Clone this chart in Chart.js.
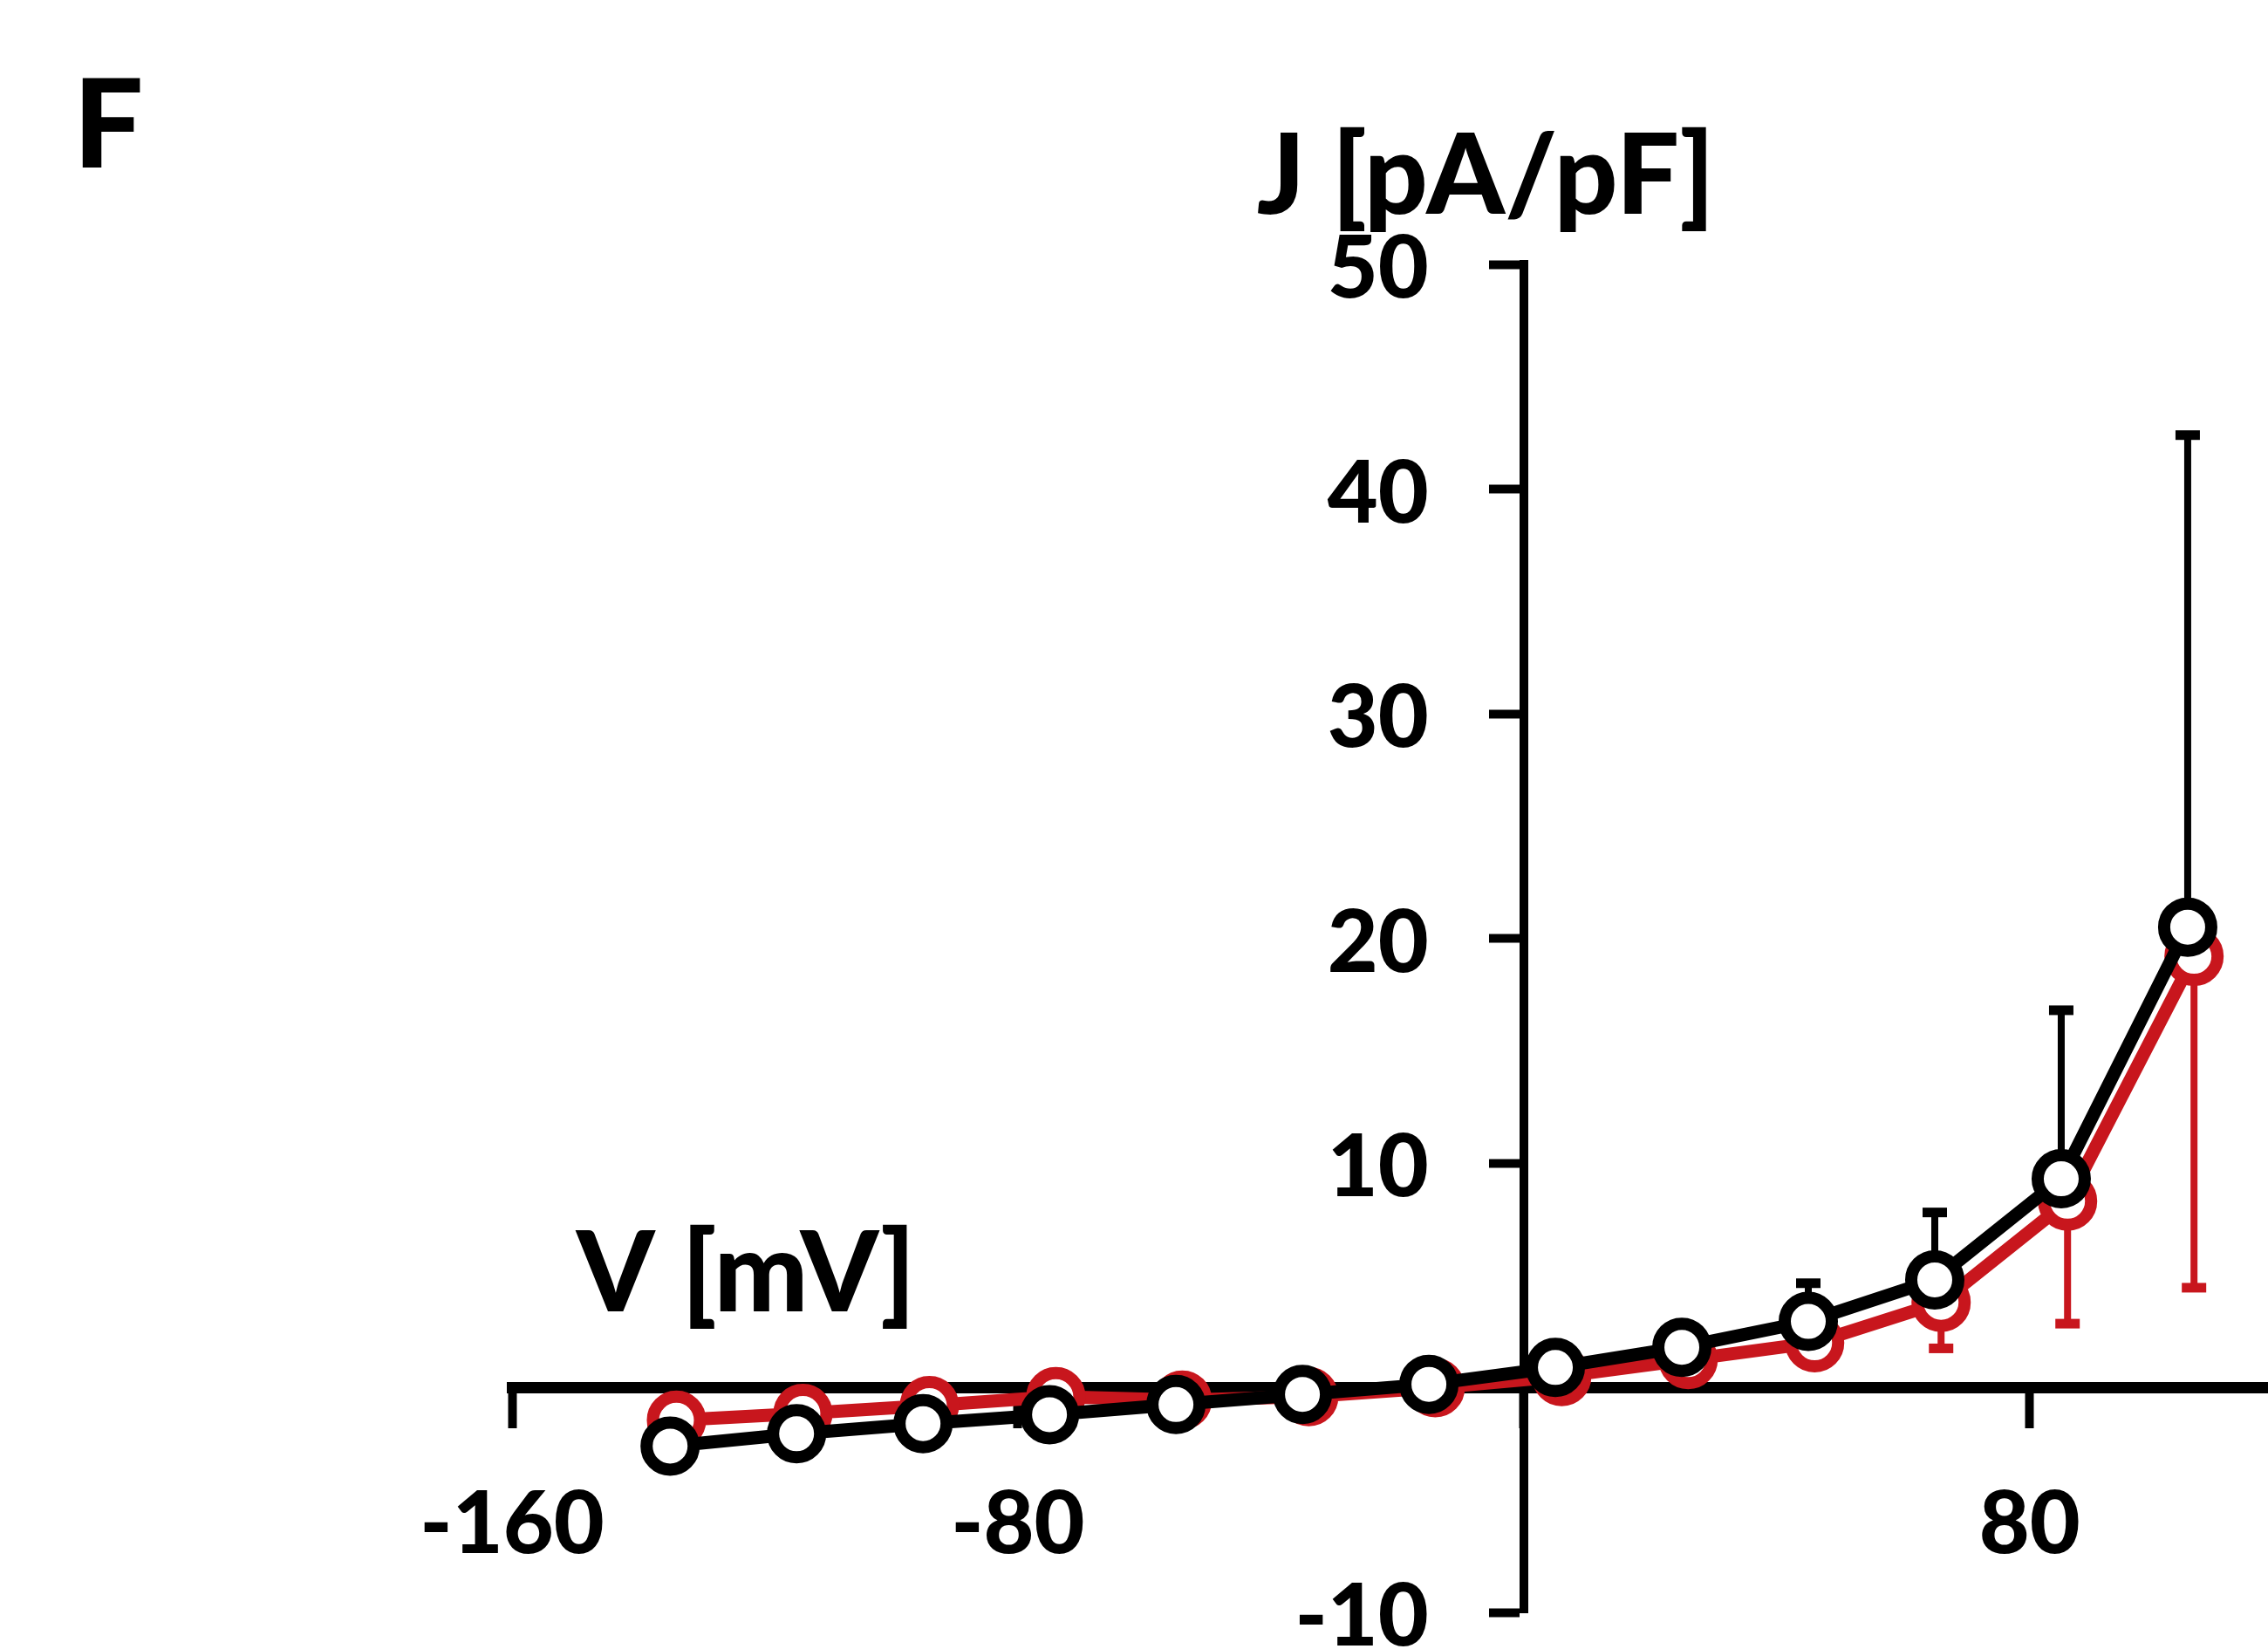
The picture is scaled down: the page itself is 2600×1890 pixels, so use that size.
<!DOCTYPE html>
<html>
<head>
<meta charset="utf-8">
<script src="https://cdn.jsdelivr.net/npm/chart.js@4.4.1/dist/chart.umd.min.js"></script>
<style>
  html, body { margin: 0; padding: 0; background: #ffffff; }
  #wrap { width: 2600px; height: 1890px; }
</style>
</head>
<body>
<div id="wrap"><canvas id="iv-chart" width="2600" height="1890"></canvas></div>
<script>
// Voltage steps (mV)
const voltages = [-135, -115, -95, -75, -55, -35, -15, 5, 25, 45, 65, 85, 105];
const redVoltages = [-134, -114, -94, -74, -54, -34, -14, 6, 26, 46, 66, 86, 106];

// Current density J (pA/pF)
const blackMeans = [-2.6, -2.05, -1.6, -1.2, -0.75, -0.3, 0.15, 0.9, 1.8, 2.95, 4.8, 9.3, 20.5];
const blackErrUp = [0.2, 0.2, 0.2, 0.2, 0.2, 0.2, 0.2, 0.3, 0.5, 1.7, 3.0, 7.5, 21.9];
const redMeans = [-1.45, -1.15, -0.8, -0.4, -0.55, -0.4, 0.0, 0.5, 1.25, 2.0, 3.8, 8.3, 19.2];
const redErrDown = [0.2, 0.2, 0.2, 0.2, 0.2, 0.2, 0.2, 0.3, 0.5, 0.9, 2.05, 5.45, 14.75];

// Axis ticks
const xTicks = [-160, -80, 0, 80];
const yTicks = [-10, 0, 10, 20, 30, 40, 50];

const FONT = 'Lato, "Open Sans", sans-serif';
const TICK_SIZE = 100;
const RED = '#c8161d';

function toPoints(xs, ys) {
    return xs.map((v, i) => ({ x: v, y: ys[i] }));
}

// Error bars, drawn just before each dataset so the markers sit on top
const errorBars = {
    id: 'errorBars',
    beforeDatasetDraw(chart, args) {
        const ds = chart.data.datasets[args.index];
        if (!ds.errors) return;
        const xs = chart.scales.x;
        const ys = chart.scales.y;
        const ctx = chart.ctx;
        ctx.save();
        ctx.strokeStyle = ds.borderColor;
        ds.data.forEach((pt, i) => {
            const px = xs.getPixelForValue(pt.x);
            const y0 = ys.getPixelForValue(pt.y);
            const y1 = ys.getPixelForValue(pt.y + ds.errDir * ds.errors[i]);
            ctx.lineWidth = 8;
            ctx.beginPath();
            ctx.moveTo(px, y0);
            ctx.lineTo(px, y1);
            ctx.stroke();
            ctx.lineWidth = 11;
            ctx.beginPath();
            ctx.moveTo(px - 14, y1);
            ctx.lineTo(px + 14, y1);
            ctx.stroke();
        });
        ctx.restore();
    }
};

// Y tick labels sit left of the tick marks (centred axis puts them on the line)
const yLabels = {
    id: 'yLabels',
    afterDraw(chart) {
        const { ctx, scales: { x, y } } = chart;
        const right = x.getPixelForValue(0) - 35 - 74;
        ctx.save();
        ctx.fillStyle = '#000';
        ctx.font = '900 ' + TICK_SIZE + 'px ' + FONT;
        ctx.textAlign = 'right';
        ctx.textBaseline = 'middle';
        y.ticks.forEach(t => {
            if (t.value === 0) return;
            ctx.fillText(String(t.value), right, y.getPixelForValue(t.value) + 6);
        });
        ctx.restore();
    }
};

// Panel letter and axis names
const panelText = {
    id: 'panelText',
    afterDraw(chart) {
        const { ctx, scales: { x, y } } = chart;
        ctx.save();
        ctx.fillStyle = '#000';
        ctx.textBaseline = 'alphabetic';
        ctx.textAlign = 'left';
        ctx.font = '900 142px ' + FONT;
        ctx.fillText('F', 84, 192);
        ctx.textAlign = 'center';
        ctx.font = '900 128px ' + FONT;
        ctx.fillText('J [pA/pF]', x.getPixelForValue(-6), 245);
        ctx.fillText('V [mV]', x.getPixelForValue(-123), y.getPixelForValue(3.4));
        ctx.restore();
    }
};

function noPadding(scale) {
    scale.paddingLeft = 0;
    scale.paddingRight = 0;
    scale.paddingTop = 0;
    scale.paddingBottom = 0;
}

const ctx = document.getElementById('iv-chart').getContext('2d');

new Chart(ctx, {
    type: 'line',
    data: {
        datasets: [
            {
                label: 'black',
                data: toPoints(voltages, blackMeans),
                errors: blackErrUp,
                errDir: 1,
                borderColor: '#000000',
                borderWidth: 15,
                pointRadius: 27,
                pointBorderWidth: 14,
                pointBackgroundColor: '#ffffff',
                pointBorderColor: '#000000',
                tension: 0
            },
            {
                label: 'red',
                data: toPoints(redVoltages, redMeans),
                errors: redErrDown,
                errDir: -1,
                borderColor: RED,
                borderWidth: 15,
                pointRadius: 27,
                pointBorderWidth: 14,
                pointBackgroundColor: '#ffffff',
                pointBorderColor: RED,
                tension: 0
            }
        ]
    },
    options: {
        responsive: false,
        animation: false,
        devicePixelRatio: 1,
        layout: {
            autoPadding: false,
            padding: { left: 587, right: 0, top: 303, bottom: 42 }
        },
        plugins: {
            legend: { display: false },
            tooltip: { enabled: false }
        },
        scales: {
            x: {
                type: 'linear',
                min: -160,
                max: 117.7,
                position: { y: 0 },
                afterBuildTicks: s => { s.ticks = xTicks.map(v => ({ value: v })); },
                afterFit: noPadding,
                grid: {
                    drawOnChartArea: false,
                    drawTicks: true,
                    tickLength: 40,
                    tickWidth: 10,
                    tickColor: '#000000'
                },
                border: { display: true, color: '#000000', width: 13 },
                ticks: {
                    color: '#000000',
                    font: { family: FONT, weight: '900', size: TICK_SIZE },
                    padding: 57,
                    maxRotation: 0,
                    autoSkip: false,
                    callback: v => (v === 0 ? '' : v)
                }
            },
            y: {
                type: 'linear',
                min: -10,
                max: 50,
                position: { x: 0 },
                afterBuildTicks: s => { s.ticks = yTicks.map(v => ({ value: v })); },
                afterFit: noPadding,
                grid: {
                    drawOnChartArea: false,
                    drawTicks: true,
                    tickLength: 35,
                    tickWidth: 10,
                    tickColor: '#000000'
                },
                border: { display: true, color: '#000000', width: 10 },
                ticks: { display: false }
            }
        }
    },
    plugins: [errorBars, yLabels, panelText]
});
</script>
</body>
</html>
